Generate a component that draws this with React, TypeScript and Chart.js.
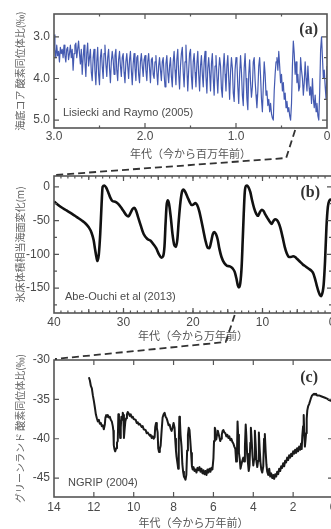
import React, { useEffect, useRef } from "react";
import Chart from "chart.js/auto";

// ---------- DATA ----------
// (a) Lisiecki & Raymo (2005) benthic d18O, ages in Ma (sampled from 3.00 down to 0.00)
const LR04_AGE_START = 3.0;
const LR04_AGE_STEP = 0.01;
const LR04_D18O = [
  2.95, 3.3, 3.5, 3.2, 3.45, 3.35, 3.6, 3.25, 3.4, 3.3,
  3.5, 3.2, 3.45, 3.6, 3.3, 3.25, 3.55, 3.4, 3.2, 3.5,
  3.3, 3.8, 3.4, 3.2, 3.15, 3.5, 3.3, 3.1, 3.4, 3.65,
  3.3, 3.9, 3.5, 3.2, 3.6, 3.95, 3.4, 3.15, 3.7, 3.5,
  3.3, 3.85, 4.05, 3.5, 3.3, 3.8, 4.15, 3.6, 3.25, 3.9,
  4.15, 3.5, 3.3, 3.7, 4.0, 3.4, 3.2, 3.65, 3.95, 3.5,
  3.3, 3.75, 4.1, 3.6, 3.35, 3.55, 3.9, 3.45, 3.3, 3.8,
  4.05, 3.55, 3.35, 3.7, 3.95, 3.5, 3.4, 3.85, 4.1, 3.6,
  3.4, 3.7, 4.0, 3.55, 3.35, 3.8, 4.15, 3.65, 3.4, 3.75,
  4.05, 3.5, 3.45, 3.9, 4.1, 3.6, 3.4, 3.7, 3.95, 3.55,
  3.45, 3.8, 4.05, 3.6, 3.4, 3.75, 4.1, 3.55, 3.5, 3.9,
  4.0, 3.6, 3.45, 3.85, 4.15, 3.7, 3.5, 3.8, 4.05, 3.6,
  3.5, 3.9, 4.2, 3.65, 3.45, 3.85, 4.1, 3.7, 3.5, 3.95,
  4.2, 3.6, 3.35, 3.8, 4.15, 3.55, 3.3, 3.9, 4.25, 3.7,
  3.4, 3.25, 3.85, 4.2, 3.6, 3.2, 3.75, 4.3, 3.8, 3.4,
  3.3, 3.95, 4.25, 3.6, 3.4, 3.85, 4.2, 3.65, 3.35, 3.9,
  4.3, 3.7, 3.45, 3.9, 4.2, 3.6, 3.35, 3.95, 4.35, 3.75,
  3.5, 3.85, 4.3, 3.65, 3.4, 4.0, 4.4, 3.7, 3.45, 3.95,
  4.35, 3.8, 3.5, 3.7, 4.25, 4.45, 3.75, 3.4, 3.9, 4.3,
  3.7, 3.45, 4.0, 4.5, 3.85, 3.5, 3.75, 4.35, 4.55, 3.8,
  3.5, 3.6, 4.2, 4.6, 3.9, 3.45, 3.85, 4.4, 4.65, 3.75,
  3.4, 4.0, 4.5, 4.75, 3.9, 3.55, 4.1, 4.45, 4.2, 3.6,
  3.5, 4.05, 4.4, 4.7, 4.3, 3.7, 3.5, 3.95, 4.5, 4.8,
  4.2, 3.6, 3.9, 4.4, 4.3, 4.65, 4.5, 4.8, 4.6, 4.85,
  4.95, 5.0, 4.3, 3.9, 3.6, 3.5, 3.8, 3.35, 3.7, 4.1,
  3.9, 4.3, 4.1, 4.5, 4.35, 4.7, 4.55, 4.8, 4.7, 4.9,
  5.0, 4.6, 3.7, 3.1, 3.4, 3.9, 3.6, 4.1, 3.9, 4.3,
  4.2, 3.5, 3.8, 4.0, 4.4, 4.1, 3.6, 4.0, 4.3, 3.7,
  4.1, 4.4, 4.2, 4.6, 4.0, 4.5, 4.7, 4.4, 4.8, 4.6,
  4.9, 5.0, 4.3, 3.3, 3.0, 3.5, 4.0, 3.8, 4.2, 4.5,
  3.7,
];

// (b) Abe-Ouchi et al. (2013) sea level (m); [age in 10^4 yr, value]
const ABE_SEA_LEVEL: [number, number][] = [
  [40, -22], [39, -30], [38.2, -35], [37.4, -40], [36.7, -45], [36, -50], [35.5, -54],
  [35, -60], [34.6, -68], [34.3, -79], [34.1, -92], [33.9, -104], [33.75, -110],
  [33.55, -100], [33.35, -70], [33.15, -25], [33.0, 0], [32.75, 2], [32.5, -1],
  [32.2, -8], [31.9, -16], [31.6, -21], [31.2, -22], [30.8, -25], [30.4, -30],
  [30.0, -36], [29.6, -42], [29.3, -44], [29.0, -39], [28.7, -33], [28.45, -31],
  [28.2, -35], [27.9, -45], [27.5, -58], [27.1, -70], [26.6, -77], [26.1, -80],
  [25.7, -85], [25.3, -91], [24.9, -100], [24.55, -105], [24.3, -103], [24.1, -88],
  [23.95, -55], [23.8, -28], [23.65, -20], [23.45, -25], [23.2, -45], [22.95, -70],
  [22.7, -86], [22.45, -89], [22.25, -78], [22.05, -50], [21.8, -22], [21.55, -6],
  [21.35, -4], [21.1, -8], [20.8, -15], [20.5, -22], [20.2, -27], [19.9, -26],
  [19.65, -24], [19.4, -27], [19.1, -36], [18.8, -50], [18.5, -65], [18.2, -80],
  [17.9, -90], [17.65, -91], [17.4, -82], [17.15, -70], [16.95, -67], [16.7, -70],
  [16.45, -78], [16.2, -92], [15.9, -104], [15.5, -113], [15.1, -117], [14.7, -118],
  [14.3, -121], [14.0, -126], [13.75, -136], [13.55, -146], [13.4, -149], [13.2, -143],
  [13.0, -118], [12.85, -80], [12.7, -40], [12.55, -8], [12.4, 1], [12.2, 2],
  [12.0, -1], [11.75, -8], [11.5, -20], [11.2, -32], [10.9, -40], [10.65, -43],
  [10.4, -38], [10.1, -34], [9.85, -36], [9.6, -41], [9.3, -46], [9.0, -51],
  [8.7, -55], [8.45, -51], [8.2, -48], [7.95, -49], [7.7, -53], [7.4, -62],
  [7.1, -75], [6.8, -89], [6.5, -99], [6.2, -104], [5.9, -104], [5.6, -103],
  [5.3, -104], [5.0, -107], [4.6, -111], [4.2, -115], [3.8, -118], [3.4, -121],
  [3.0, -124], [2.7, -128], [2.45, -136], [2.2, -146], [1.95, -155], [1.75, -160],
  [1.55, -162], [1.35, -156], [1.2, -145], [1.0, -110], [0.8, -60], [0.6, -30],
  [0.4, -21], [0.2, -19], [0, -20],
];

// (c) NGRIP (2004) d18O (permil); [age in 10^4 yr, value]
const NGRIP_D18O: [number, number][] = [
  [12.25, -32.2], [12.2, -32.6], [12.15, -33.3], [12.1, -33.6], [12.05, -34.5], [12.0, -35.2],
  [11.95, -36.0], [11.9, -36.9], [11.85, -37.4], [11.8, -37.8], [11.75, -37.6], [11.7, -38.1],
  [11.65, -38.0], [11.6, -38.4], [11.55, -38.3], [11.5, -38.8], [11.45, -38.2], [11.42, -37.3],
  [11.38, -37.0], [11.34, -37.2], [11.3, -37.0], [11.25, -37.3], [11.2, -37.2], [11.15, -37.6],
  [11.1, -37.8], [11.05, -38.4], [11.02, -39.0], [11.0, -40.8], [10.97, -41.3], [10.93, -41.6],
  [10.88, -41.2], [10.84, -40.5], [10.8, -40.3], [10.77, -36.9], [10.74, -37.5], [10.71, -38.0],
  [10.68, -39.9], [10.65, -38.6], [10.62, -37.2], [10.58, -37.6], [10.55, -36.7], [10.52, -37.0],
  [10.49, -39.9], [10.46, -38.9], [10.42, -37.8], [10.38, -37.4], [10.34, -36.9], [10.3, -36.6],
  [10.25, -36.8], [10.2, -37.1], [10.15, -36.9], [10.1, -37.3], [10.05, -37.2], [10.0, -37.5],
  [9.9, -37.6], [9.85, -38.0], [9.8, -37.9], [9.75, -38.2], [9.7, -38.1], [9.6, -38.5],
  [9.55, -38.4], [9.5, -38.8], [9.4, -38.9], [9.35, -39.3], [9.3, -39.2], [9.2, -39.6],
  [9.15, -39.5], [9.1, -39.9], [9.05, -39.7], [9.0, -40.0], [8.95, -39.8], [8.92, -38.5],
  [8.88, -38.0], [8.84, -38.6], [8.8, -39.2], [8.77, -41.2], [8.73, -41.7], [8.69, -41.3],
  [8.65, -40.9], [8.6, -39.0], [8.55, -37.3], [8.5, -36.9], [8.45, -36.7], [8.4, -37.2],
  [8.35, -37.4], [8.3, -37.8], [8.25, -38.3], [8.2, -38.2], [8.15, -38.7], [8.1, -39.0],
  [8.05, -38.6], [8.0, -38.0], [7.95, -38.6], [7.92, -40.0], [7.88, -41.5], [7.85, -42.3],
  [7.8, -43.2], [7.77, -43.8], [7.74, -40.5], [7.71, -37.2], [7.68, -37.8], [7.65, -39.5],
  [7.6, -41.0], [7.56, -43.2], [7.52, -44.2], [7.48, -44.8], [7.44, -45.0], [7.4, -45.2],
  [7.36, -44.6], [7.32, -41.5], [7.28, -39.5], [7.24, -38.6], [7.2, -38.9], [7.16, -40.3],
  [7.12, -41.8], [7.08, -43.5], [7.04, -43.9], [7.0, -43.6], [6.95, -44.1], [6.9, -43.9],
  [6.85, -44.3], [6.8, -43.7], [6.75, -44.0], [6.7, -43.6], [6.65, -44.2], [6.6, -43.8],
  [6.55, -44.4], [6.5, -44.0], [6.45, -44.5], [6.4, -44.1], [6.35, -44.6], [6.3, -43.9],
  [6.25, -44.3], [6.2, -43.8], [6.15, -44.2], [6.1, -43.7], [6.05, -43.9], [6.0, -42.5],
  [5.97, -40.3], [5.93, -38.6], [5.9, -38.9], [5.86, -40.1], [5.82, -39.5], [5.78, -39.0],
  [5.74, -39.4], [5.7, -39.8], [5.66, -40.3], [5.62, -40.0], [5.58, -39.5], [5.54, -39.0],
  [5.5, -38.9], [5.45, -39.2], [5.4, -39.3], [5.35, -39.7], [5.3, -39.5], [5.25, -39.9],
  [5.2, -39.7], [5.15, -40.2], [5.1, -40.0], [5.05, -40.4], [5.0, -40.6], [4.95, -41.0],
  [4.9, -41.3], [4.86, -42.9], [4.82, -42.2], [4.79, -37.8], [4.76, -39.5], [4.72, -41.8],
  [4.68, -42.6], [4.64, -43.8], [4.6, -43.3], [4.55, -42.8], [4.5, -42.4], [4.46, -42.9],
  [4.42, -41.0], [4.38, -38.2], [4.35, -39.6], [4.31, -41.9], [4.27, -43.0], [4.23, -44.1],
  [4.19, -43.4], [4.15, -40.5], [4.12, -38.6], [4.08, -40.2], [4.04, -42.1], [4.0, -43.4],
  [3.96, -42.6], [3.92, -39.0], [3.88, -40.8], [3.84, -42.9], [3.8, -43.6], [3.76, -42.8],
  [3.72, -39.2], [3.68, -41.3], [3.64, -43.0], [3.6, -43.9], [3.55, -44.3], [3.5, -43.5],
  [3.46, -40.0], [3.42, -39.4], [3.38, -41.6], [3.34, -43.3], [3.3, -44.2], [3.25, -44.6],
  [3.2, -43.8], [3.15, -44.8], [3.1, -44.4], [3.05, -45.0], [3.0, -44.6], [2.95, -45.1],
  [2.9, -44.5], [2.85, -44.8], [2.8, -44.2], [2.75, -44.5], [2.7, -43.8], [2.65, -44.1],
  [2.6, -43.5], [2.55, -43.7], [2.5, -43.1], [2.45, -43.5], [2.4, -42.8], [2.35, -43.0],
  [2.3, -42.4], [2.25, -42.7], [2.2, -42.1], [2.15, -42.4], [2.1, -41.9], [2.05, -42.2],
  [2.0, -41.6], [1.95, -41.9], [1.9, -41.4], [1.85, -41.8], [1.8, -41.2], [1.75, -41.6],
  [1.7, -41.0], [1.65, -41.4], [1.6, -40.6], [1.57, -41.3], [1.54, -39.6], [1.5, -38.4],
  [1.47, -37.0], [1.44, -39.5], [1.41, -41.0], [1.38, -40.2], [1.35, -39.3], [1.32, -37.5],
  [1.29, -36.4], [1.25, -35.9], [1.2, -35.6], [1.15, -35.2], [1.1, -34.8], [1.05, -34.5],
  [1.0, -34.4], [0.95, -34.3], [0.9, -34.4], [0.85, -34.3], [0.8, -34.5], [0.7, -34.5],
  [0.6, -34.6], [0.5, -34.7], [0.4, -34.8], [0.3, -34.9], [0.2, -35.1], [0.1, -35.2],
  [0.0, -35.3],
];

// Tick values
const A_X_LABELS = [3, 2, 1, 0];
const A_X_MINOR = [2.5, 1.5, 0.5];
const A_Y_LABELS = [3, 4, 5];
const A_Y_MINOR = [3.5, 4.5];
const B_X_LABELS = [40, 30, 20, 10, 0];
const B_X_MID = [35, 25, 15, 5];
const B_Y_LABELS = [0, -50, -100, -150];
const B_Y_MINOR = [-25, -75, -125, -175];
const C_X_LABELS = [14, 12, 10, 8, 6, 4, 2, 0];
const C_Y_LABELS = [-30, -35, -40, -45];

// Zoom connectors: value on the upper panel's axis where each dashed line starts
const CONNECT_A_TO_B = 0.35;
const CONNECT_B_TO_C = 14;

// ---------- STYLE / LAYOUT ----------
const VIEW_W = 331;
const VIEW_H = 529;
const CANVAS_W = 361;
const TICK_FAMILY = "'Liberation Sans', Arial, sans-serif";
const JP_FAMILY = "'Noto Sans CJK JP', 'Noto Sans', sans-serif";
const AXIS_COLOR = "#555";
const TEXT_COLOR = "#4a4a4a";

const PANELS = {
  a: { top: 0, height: 162, padTop: 14, areaRight: 327, xAxisH: 34 },
  b: { top: 162, height: 182, padTop: 14, areaRight: 332, xAxisH: 31 },
  c: { top: 344, height: 185, padTop: 16, areaRight: 333, xAxisH: 32 },
};

const framePlugin = {
  id: "frame",
  afterDatasetsDraw(chart: any, _args: any, opts: any) {
    const { ctx, chartArea: a } = chart;
    const xs = chart.scales.x;
    const ys = chart.scales.y;
    ctx.save();
    ctx.strokeStyle = AXIS_COLOR;
    ctx.lineWidth = 1.2;
    const xTicks = (vals: number[], len: number) => {
      for (const v of vals) {
        const px = xs.getPixelForValue(v);
        if (px < a.left + 1 || px > a.right - 1) continue;
        ctx.beginPath();
        ctx.moveTo(px, a.bottom);
        ctx.lineTo(px, a.bottom - len);
        ctx.moveTo(px, a.top);
        ctx.lineTo(px, a.top + len);
        ctx.stroke();
      }
    };
    const yTicks = (vals: number[], len: number) => {
      for (const v of vals) {
        const py = ys.getPixelForValue(v);
        if (py < a.top + 1 || py > a.bottom - 1) continue;
        ctx.beginPath();
        ctx.moveTo(a.left, py);
        ctx.lineTo(a.left + len, py);
        ctx.moveTo(a.right, py);
        ctx.lineTo(a.right - len, py);
        ctx.stroke();
      }
    };
    xTicks(opts.xMajor || [], 5);
    xTicks(opts.xMid || [], 4);
    xTicks(opts.xMinor || [], 2.5);
    yTicks(opts.yMajor || [], 5);
    yTicks(opts.yMinor || [], 3);
    ctx.lineWidth = 1.6;
    ctx.strokeRect(a.left, a.top, a.right - a.left, a.bottom - a.top);
    for (const t of opts.labels || []) {
      ctx.font = t.font;
      ctx.fillStyle = t.color;
      ctx.textBaseline = "middle";
      ctx.textAlign = t.align;
      const x = t.fromRight ? a.right - t.dx : a.left + t.dx;
      const y = t.fromBottom ? a.bottom - t.dy : a.top + t.dy;
      ctx.fillText(t.text, x, y);
    }
    ctx.restore();
  },
};

function buildConfig(p: any) {
  return {
    type: "line",
    data: {
      datasets: [
        {
          data: p.points,
          borderColor: p.color,
          borderWidth: p.lineWidth,
          pointRadius: 0,
          fill: false,
          tension: p.tension,
          cubicInterpolationMode: p.monotone ? "monotone" : "default",
          borderJoinStyle: "round",
        },
      ],
    },
    options: {
      animation: false,
      responsive: false,
      events: [],
      layout: { padding: { top: p.layout.padTop, right: CANVAS_W - p.layout.areaRight, bottom: 0, left: 0 } },
      plugins: {
        legend: { display: false },
        tooltip: { enabled: false },
        frame: p.frame,
      },
      scales: {
        x: {
          type: "linear",
          reverse: true,
          min: p.xMin,
          max: p.xMax,
          grid: { display: false, drawTicks: false },
          border: { display: false },
          afterBuildTicks: (s: any) => {
            s.ticks = p.xLabels.map((v: number) => ({ value: v }));
          },
          afterFit: (s: any) => {
            s.height = p.layout.xAxisH;
          },
          ticks: {
            autoSkip: false,
            maxRotation: 0,
            padding: p.xTickPad,
            color: TEXT_COLOR,
            font: { family: TICK_FAMILY, size: 12 },
            callback: p.xFmt,
          },
          title: {
            display: true,
            text: p.xTitle,
            color: "#555",
            font: { family: JP_FAMILY, size: 11 },
            padding: { top: 0, bottom: p.xTitlePad },
          },
        },
        y: {
          type: "linear",
          reverse: !!p.yReverse,
          min: p.yMin,
          max: p.yMax,
          grid: { display: false, drawTicks: false },
          border: { display: false },
          afterBuildTicks: (s: any) => {
            s.ticks = p.yLabels.map((v: number) => ({ value: v }));
          },
          afterFit: (s: any) => {
            s.width = 54;
          },
          ticks: {
            autoSkip: false,
            padding: 4,
            color: TEXT_COLOR,
            font: { family: TICK_FAMILY, size: 12 },
            callback: p.yFmt,
          },
          title: {
            display: true,
            text: p.yTitle,
            color: "#606060",
            font: { family: JP_FAMILY, size: 10 },
            padding: { top: 14, bottom: 0 },
          },
        },
      },
    },
    plugins: [framePlugin],
  };
}

const sourceFont = `11px ${TICK_FAMILY}`;
const panelFont = `bold 16px 'Liberation Serif', 'DejaVu Serif', serif`;

export default function App() {
  const refA = useRef<HTMLCanvasElement>(null);
  const refB = useRef<HTMLCanvasElement>(null);
  const refC = useRef<HTMLCanvasElement>(null);
  const refO = useRef<HTMLCanvasElement>(null);

  useEffect(() => {
    document.body.style.margin = "0";
    const lrPoints = LR04_D18O.map((v, i) => ({ x: LR04_AGE_START - i * LR04_AGE_STEP, y: v }));
    const chartA = new Chart(refA.current as any, buildConfig({
      points: lrPoints,
      color: "rgba(48,72,168,0.9)",
      lineWidth: 1.2,
      tension: 0,
      layout: PANELS.a,
      xMin: 0, xMax: 3.0, xLabels: A_X_LABELS, xTickPad: 1,
      xFmt: (v: number) => (v === 0 ? "0" : Number(v).toFixed(1)),
      xTitle: "年代（今から百万年前）", xTitlePad: 2,
      yMin: 2.45, yMax: 5.19, yReverse: true, yLabels: A_Y_LABELS,
      yFmt: (v: number) => Number(v).toFixed(1),
      yTitle: "海底コア 酸素同位体比(‰)",
      frame: {
        xMajor: A_X_LABELS, xMinor: A_X_MINOR, yMajor: A_Y_LABELS, yMinor: A_Y_MINOR,
        labels: [
          { text: "Lisiecki and Raymo (2005)", font: sourceFont, color: TEXT_COLOR, align: "left", dx: 9, dy: 15, fromBottom: true },
          { text: "(a)", font: panelFont, color: "#333", align: "right", dx: 9, dy: 16, fromRight: true },
        ],
      },
    }) as any);
    const chartB = new Chart(refB.current as any, buildConfig({
      points: ABE_SEA_LEVEL.map(([x, y]) => ({ x, y })),
      color: "#111",
      lineWidth: 2.6,
      tension: 0.4,
      monotone: true,
      layout: PANELS.b,
      xMin: 0, xMax: 40, xLabels: B_X_LABELS, xTickPad: 2,
      xFmt: (v: number) => String(v),
      xTitle: "年代（今から万年前）", xTitlePad: 2,
      yMin: -187, yMax: 16, yLabels: B_Y_LABELS,
      yFmt: (v: number) => String(v),
      yTitle: "氷床体積相当海面変化(m)",
      frame: {
        xMajor: B_X_LABELS, xMid: B_X_MID,
        xMinor: Array.from({ length: 41 }, (_, i) => i),
        yMajor: B_Y_LABELS, yMinor: B_Y_MINOR,
        labels: [
          { text: "Abe-Ouchi et al (2013)", font: sourceFont, color: TEXT_COLOR, align: "left", dx: 11, dy: 16, fromBottom: true },
          { text: "(b)", font: panelFont, color: "#333", align: "right", dx: 12, dy: 17, fromRight: true },
        ],
      },
    }) as any);
    const chartC = new Chart(refC.current as any, buildConfig({
      points: NGRIP_D18O.map(([x, y]) => ({ x, y })),
      color: "#1a1a1a",
      lineWidth: 2,
      tension: 0,
      layout: PANELS.c,
      xMin: 0, xMax: 14, xLabels: C_X_LABELS, xTickPad: 3,
      xFmt: (v: number) => String(v),
      xTitle: "年代（今から万年前）", xTitlePad: 0,
      yMin: -47.4, yMax: -30, yLabels: C_Y_LABELS,
      yFmt: (v: number) => String(v),
      yTitle: "グリーンランド 酸素同位体比(‰)",
      frame: {
        xMajor: C_X_LABELS, yMajor: C_Y_LABELS,
        labels: [
          { text: "NGRIP (2004)", font: sourceFont, color: TEXT_COLOR, align: "left", dx: 14, dy: 14, fromBottom: true },
          { text: "(c)", font: panelFont, color: "#333", align: "right", dx: 15, dy: 18, fromRight: true },
        ],
      },
    }) as any);

    // dashed zoom connectors
    const o = refO.current as HTMLCanvasElement;
    const ctx = o.getContext("2d") as CanvasRenderingContext2D;
    ctx.clearRect(0, 0, o.width, o.height);
    ctx.strokeStyle = "#333";
    ctx.lineWidth = 1.8;
    ctx.setLineDash([7, 4]);
    const connect = (upper: any, upperTop: number, value: number, lower: any, lowerTop: number) => {
      const sx = upper.scales.x.getPixelForValue(value);
      const sy = upperTop + upper.chartArea.bottom + 2;
      const ex = lower.chartArea.left + 1;
      const ey = lowerTop + lower.chartArea.top - 1;
      const bx = sx - 9;
      const by = ey - 17;
      ctx.beginPath();
      ctx.moveTo(sx, sy);
      ctx.lineTo(bx, by);
      ctx.lineTo(ex, ey);
      ctx.stroke();
    };
    connect(chartA, PANELS.a.top, CONNECT_A_TO_B, chartB, PANELS.b.top);
    connect(chartB, PANELS.b.top, CONNECT_B_TO_C, chartC, PANELS.c.top);

    return () => {
      chartA.destroy();
      chartB.destroy();
      chartC.destroy();
    };
  }, []);

  const cv = (top: number, h: number): React.CSSProperties => ({
    position: "absolute",
    left: 0,
    top,
    width: CANVAS_W,
    height: h,
  });

  return (
    <div style={{ position: "fixed", left: 0, top: 0, width: VIEW_W, height: VIEW_H, overflow: "hidden", background: "#fff" }}>
      <canvas ref={refA} width={CANVAS_W} height={PANELS.a.height} style={cv(PANELS.a.top, PANELS.a.height)} />
      <canvas ref={refB} width={CANVAS_W} height={PANELS.b.height} style={cv(PANELS.b.top, PANELS.b.height)} />
      <canvas ref={refC} width={CANVAS_W} height={PANELS.c.height} style={cv(PANELS.c.top, PANELS.c.height)} />
      <canvas
        ref={refO}
        width={VIEW_W}
        height={VIEW_H}
        style={{ position: "absolute", left: 0, top: 0, width: VIEW_W, height: VIEW_H, pointerEvents: "none" }}
      />
    </div>
  );
}
